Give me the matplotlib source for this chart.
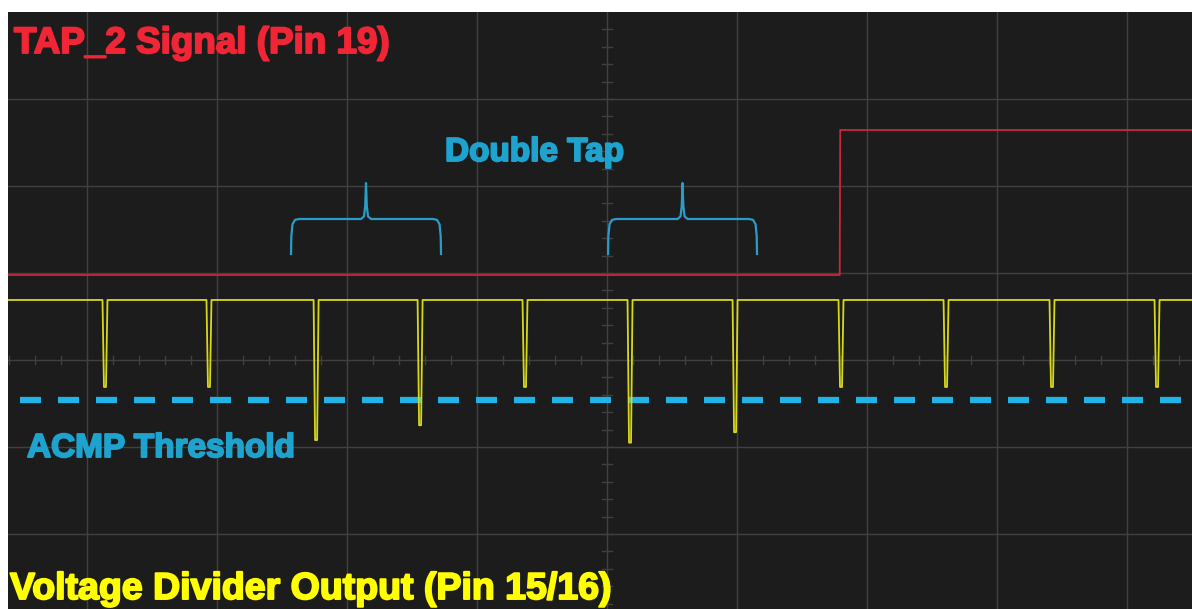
import matplotlib
matplotlib.use("Agg")
import matplotlib.pyplot as plt
import matplotlib.patheffects as pe
import numpy as np

# ---- data (x in horizontal divisions from screen centre, y in vertical divisions) ----
spike_times = [-3.862, -3.062, -2.238, -1.438, -0.631, 0.177, 0.985, 1.800, 2.608, 3.423, 4.231]
spike_depths = [-0.31, -0.31, -0.92, -0.75, -0.31, -0.95, -0.83, -0.31, -0.31, -0.31, -0.31]
yellow_level = 0.69
red_low = 0.977
red_high = 2.644
red_step_time = 1.79
threshold_level = -0.46
brace_spans = [(-2.431, -1.277), (0.008, 1.154)]
x_range = (-4.608, 4.5)
y_range = (-2.862, 4.0)

W, H = 1192, 609
fig = plt.figure(figsize=(W / 100, H / 100), dpi=100, facecolor="white")
ax = fig.add_axes([8 / W, 0, 1184 / W, 597 / H])
ax.set_facecolor("#1c1c1c")
ax.set_xlim(*x_range)
ax.set_ylim(*y_range)
for s in ax.spines.values():
    s.set_visible(False)
ax.set_xticks([])
ax.set_yticks([])

grid_c = "#404040"
for gx in range(-4, 5):
    ax.axvline(gx, color=grid_c, lw=1.0, zorder=1)
for gy in range(-2, 4):
    ax.axhline(gy, color=grid_c, lw=1.0, zorder=1)
# centre tick marks
for t in np.arange(-4.6, 4.6, 0.2):
    ax.plot([t, t], [-0.05, 0.05], color=grid_c, lw=1.0, zorder=1)
for t in np.arange(-2.8, 4.0, 0.2):
    ax.plot([-0.04, 0.04], [t, t], color=grid_c, lw=1.0, zorder=1)

# ---- threshold ----
ax.plot([-4.515, 4.43], [threshold_level, threshold_level], color="#1eb4e8", lw=4.5,
        dashes=(3.36, 2.72), zorder=3, solid_capstyle="butt", dash_capstyle="butt")

# ---- yellow trace ----
px = 1 / 130.0
yx, yy = [x_range[0]], [yellow_level]
for t, d in zip(spike_times, spike_depths):
    yx += [t - 2.5 * px, t - 1 * px, t + 1 * px, t + 2.5 * px]
    yy += [yellow_level, d, d, yellow_level]
yx.append(x_range[1]); yy.append(yellow_level)
ax.plot(yx, yy, color="#d8d81a", lw=1.3, zorder=4)

# ---- red trace ----
rx = [x_range[0], red_step_time, red_step_time + 0.5 * px, x_range[1]]
ry = [red_low, red_low, red_high, red_high]
ax.plot(rx, ry, color="#c8283a", lw=1.3, zorder=5)

# ---- braces ----
brace_c = "#2a9cc8"
by = (360 - 219) / 87.0
btip = (360 - 183) / 87.0
bend = (360 - 254) / 87.0
for a, b in brace_spans:
    m = (a + b) / 2
    r = 8 * px
    xs = [a, a + 0.3 * px, a + 1.5 * px, a + 4 * px, a + r, m - 5 * px, m - 2 * px, m - 0.8 * px, m,
          m + 0.8 * px, m + 2 * px, m + 5 * px, b - r, b - 4 * px, b - 1.5 * px, b - 0.3 * px, b]
    ys = [bend, by - 0.2, by - 0.06, by - 0.01, by, by, by + 0.03, by + 0.15, btip,
          by + 0.15, by + 0.03, by, by, by - 0.01, by - 0.06, by - 0.2, bend]
    ax.plot(xs, ys, color=brace_c, lw=1.6, zorder=5)

# ---- labels ----
def label(x, y, s, c, size):
    fig.text(x / W, 1 - y / H, s, color=c, fontsize=size, fontweight="bold",
             family="Liberation Sans", va="baseline", ha="left",
             path_effects=[pe.withStroke(linewidth=1.4, foreground=c)])

label(14, 53, "TAP_2 Signal (Pin 19)", "#f02535", 26.5)
label(445, 161, "Double Tap", "#1ea3cf", 24)
label(27, 457, "ACMP Threshold", "#1ea3cf", 24)
label(10, 599, "Voltage Divider Output (Pin 15/16)", "#ffff00", 27)

fig.savefig("out.png", dpi=100, facecolor="white")
